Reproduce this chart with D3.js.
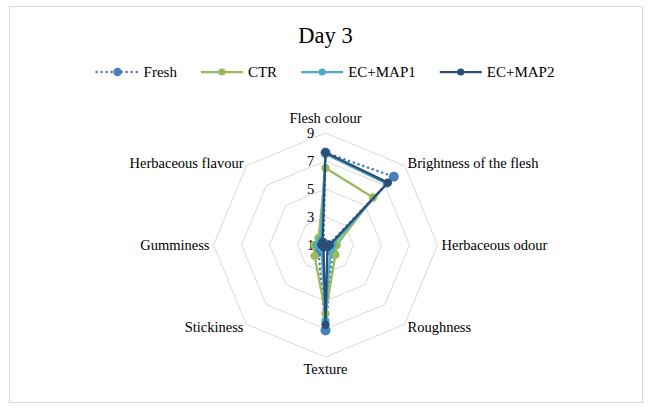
<!DOCTYPE html>
<html>
<head>
<meta charset="utf-8">
<script src="https://cdn.jsdelivr.net/npm/d3@7"></script>
<style>
  html, body { margin: 0; padding: 0; background: #fff; }
  svg { display: block; }
  svg text { font-family: "Liberation Serif", "Times New Roman", serif; }
</style>
</head>
<body>
<svg id="chart" width="651" height="411" font-family="Liberation Serif"></svg>
<script>
const attributes = ["Flesh colour", "Brightness of the flesh", "Herbaceous odour", "Roughness",
                    "Texture", "Stickiness", "Gumminess", "Herbaceous flavour"];
const seriesNames = ["Fresh", "CTR", "EC+MAP1", "EC+MAP2"];
const fresh  = [7.6, 7.9, 1.2, 1.7, 7.1, 1.7, 1.2, 1.2];
const ctr    = [6.5, 5.8, 1.8, 2.0, 5.9, 2.1, 1.8, 1.7];
const ecMap1 = [7.5, 7.2, 1.5, 1.5, 6.4, 1.4, 1.6, 1.5];
const ecMap2 = [7.6, 7.3, 1.3, 1.2, 6.7, 1.2, 1.3, 1.3];
const tickValues = [1, 3, 5, 7, 9];
const titleText = "Day 3";

const seriesValues = [fresh, ctr, ecMap1, ecMap2];
const colors = ["#4A7EBB", "#9BBB59", "#4BACC6", "#2C4D75"];

const svg = d3.select("#chart");
const cx = 325.5, cy = 245, R = 112;
const FONT = "Liberation Serif";

// frame
svg.append("rect").attr("x", 9.5).attr("y", 6.5).attr("width", 633).attr("height", 396)
  .attr("fill", "#fff").attr("stroke", "#d9d9d9").attr("stroke-width", 1);

// title
svg.append("text").attr("x", cx).attr("y", 43).attr("text-anchor", "middle")
  .attr("font-family", FONT).attr("font-size", "22.5px").attr("fill", "#000").text(titleText);

const r = d3.scaleLinear().domain([1, 9]).range([0, R]);
const angle = d3.scaleLinear().domain([0, attributes.length]).range([0, 2 * Math.PI]);

const g = svg.append("g").attr("transform", `translate(${cx},${cy})`);

// grid rings
const ring = d3.lineRadial().angle((d, i) => angle(i)).radius(d => r(d)).curve(d3.curveLinearClosed);
tickValues.filter(t => t > 1).forEach(t => {
  g.append("path").attr("d", ring(attributes.map(() => t)))
    .attr("fill", "none").attr("stroke", "#d9d9d9").attr("stroke-width", 1);
});

// tick labels
g.selectAll("text.tick").data(tickValues).join("text")
  .attr("class", "tick")
  .attr("x", -15).attr("y", d => -r(d)).attr("dy", "0.35em")
  .attr("text-anchor", "middle").attr("font-family", FONT).attr("font-size", "14.5px").attr("fill", "#000")
  .text(d => d);

// axis labels
attributes.forEach((name, i) => {
  const a = angle(i);
  const s = Math.sin(a), c = Math.cos(a);
  const rr = R + 4;
  let x = rr * s, y = -rr * c;
  let anchor = Math.abs(s) < 0.01 ? "middle" : (s > 0 ? "start" : "end");
  if (Math.abs(s) < 0.01) y += c > 0 ? -11 : 8;
  g.append("text").attr("x", x).attr("y", y).attr("dy", "0.35em")
    .attr("text-anchor", anchor).attr("font-family", FONT).attr("font-size", "14.5px").attr("fill", "#000")
    .text(name);
});

// series
const line = d3.lineRadial().angle((d, i) => angle(i)).radius(d => r(d)).curve(d3.curveLinearClosed);
seriesValues.forEach((vals, si) => {
  const sg = g.append("g");
  sg.append("path").attr("d", line(vals))
    .attr("fill", "none").attr("stroke", colors[si]).attr("stroke-width", si === 0 ? 2.6 : 2.25)
    .attr("stroke-linejoin", "round")
    .attr("stroke-linecap", si === 0 ? "round" : "butt")
    .attr("stroke-dasharray", si === 0 ? "0.01 5" : null);
  sg.selectAll("circle").data(vals).join("circle")
    .attr("cx", (d, i) => r(d) * Math.sin(angle(i)))
    .attr("cy", (d, i) => -r(d) * Math.cos(angle(i)))
    .attr("r", si === 0 ? 5 : 4.2)
    .attr("fill", colors[si]);
});

// legend
const leg = svg.append("g");
const legY = 72;
const lineLen = 42, gap = 5, spacing = 24;
let x = 0;
seriesNames.forEach((name, si) => {
  const it = leg.append("g");
  const x0 = x;
  it.append("line").attr("x1", x0).attr("x2", x0 + lineLen).attr("y1", legY).attr("y2", legY)
    .attr("stroke", colors[si]).attr("stroke-width", si === 0 ? 2.6 : 2.25)
    .attr("stroke-linecap", si === 0 ? "round" : "butt")
    .attr("stroke-dasharray", si === 0 ? "0.01 5" : null);
  it.append("circle").attr("cx", x0 + lineLen / 2).attr("cy", legY).attr("r", si === 0 ? 4.2 : 3.6)
    .attr("fill", colors[si]);
  const t = it.append("text").attr("x", x0 + lineLen + gap).attr("y", legY).attr("dy", "0.35em")
    .attr("font-family", FONT).attr("font-size", "15px").attr("fill", "#000").text(name);
  x = x0 + lineLen + gap + t.node().getComputedTextLength() + spacing;
});
const totalW = x - spacing;
leg.attr("transform", `translate(${cx - totalW / 2},0)`);
</script>
</body>
</html>
